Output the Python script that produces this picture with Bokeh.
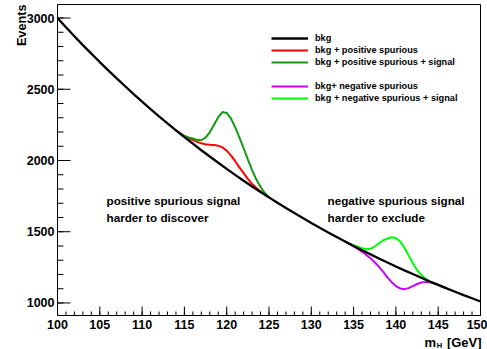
from math import pi
from bokeh.plotting import figure
from bokeh.models import (Range1d, SingleIntervalTicker, Label, Legend, LegendItem)
from bokeh.embed import file_html
from bokeh.resources import INLINE

# ---------------- data ----------------
mass = [100, 101, 102, 103, 104, 105, 106, 107, 108, 109,
        110, 111, 112, 113, 114, 115, 116, 117, 118, 119,
        120, 121, 122, 123, 124, 125, 126, 127, 128, 129,
        130, 131, 132, 133, 134, 135, 136, 137, 138, 139,
        140, 141, 142, 143, 144, 145, 146, 147, 148, 149, 150]
bkg = [3000, 2935, 2872, 2810, 2750, 2691, 2633, 2576, 2521, 2466,
       2413, 2361, 2310, 2261, 2212, 2164, 2118, 2072, 2028, 1984,
       1941, 1899, 1858, 1818, 1779, 1741, 1703, 1667, 1631, 1596,
       1561, 1528, 1495, 1463, 1431, 1400, 1370, 1341, 1312, 1284,
       1256, 1229, 1203, 1177, 1151, 1127, 1102, 1079, 1055, 1033, 1010]

pos_mass = [114.0, 114.5, 115.0, 115.5, 116.0, 116.5, 117.0, 117.5, 118.0, 118.5,
            119.0, 119.5, 120.0, 120.5, 121.0, 121.5, 122.0, 122.5, 123.0, 123.5,
            124.0, 124.5, 125.0]
bkg_pos_spur = [2212, 2191, 2172, 2156, 2143, 2131, 2121, 2114, 2110, 2108,
                2104, 2092, 2069, 2036, 1995, 1952, 1911, 1871, 1836, 1807,
                1783, 1761, 1741]
bkg_pos_spur_sig = [2212, 2190, 2172, 2161, 2154, 2145, 2142, 2160, 2198, 2251,
                    2304, 2340, 2334, 2295, 2234, 2163, 2086, 2008, 1933, 1868,
                    1814, 1772, 1743]

neg_mass = [134.0, 134.5, 135.0, 135.5, 136.0, 136.5, 137.0, 137.5, 138.0, 138.5,
            139.0, 139.5, 140.0, 140.5, 141.0, 141.5, 142.0, 142.5, 143.0, 143.5,
            144.0, 144.5, 145.0, 145.5, 146.0]
bkg_neg_spur = [1431, 1414, 1397, 1379, 1359, 1337, 1314, 1286, 1254, 1218,
                1180, 1146, 1119, 1102, 1097, 1104, 1118, 1133, 1144, 1148,
                1145, 1137, 1127, 1114, 1102]
bkg_neg_spur_sig = [1431, 1417, 1405, 1395, 1385, 1377, 1381, 1396, 1419, 1440,
                    1452, 1461, 1456, 1432, 1389, 1334, 1279, 1232, 1197, 1171,
                    1152, 1139, 1127, 1114, 1102]

legend_labels = ["bkg", "bkg + positive spurious", "bkg + positive spurious + signal",
                 " ", "bkg+ negative spurious", "bkg + negative spurious + signal"]

# tick positions (ROOT draws them inward from the axes)
x_major_ticks = [100, 105, 110, 115, 120, 125, 130, 135, 140, 145, 150]
x_minor_ticks = [100, 101, 102, 103, 104, 105, 106, 107, 108, 109,
                 110, 111, 112, 113, 114, 115, 116, 117, 118, 119,
                 120, 121, 122, 123, 124, 125, 126, 127, 128, 129,
                 130, 131, 132, 133, 134, 135, 136, 137, 138, 139,
                 140, 141, 142, 143, 144, 145, 146, 147, 148, 149, 150]
y_major_ticks = [1000, 1500, 2000, 2500, 3000]
y_minor_ticks = [1000, 1100, 1200, 1300, 1400, 1500, 1600, 1700, 1800, 1900,
                 2000, 2100, 2200, 2300, 2400, 2500, 2600, 2700, 2800, 2900, 3000]

FONT = "Liberation Sans"
X0, X1, Y0, Y1 = 100, 150, 912, 3095
FRAME_W, FRAME_H = 423, 311
PX_X = (X1 - X0) / FRAME_W      # data units per pixel
PX_Y = (Y1 - Y0) / FRAME_H

# ---------------- figure ----------------
p = figure(width=487, height=349, x_range=Range1d(X0, X1), y_range=Range1d(Y0, Y1),
           output_backend="svg", toolbar_location=None,
           min_border_left=57, min_border_right=7, min_border_top=4, min_border_bottom=34)
p.background_fill_alpha = 0
p.border_fill_alpha = 0
p.outline_line_color = "black"
p.outline_line_width = 1
p.grid.visible = False

p.xaxis.ticker = SingleIntervalTicker(interval=5, num_minor_ticks=5)
p.yaxis.ticker = SingleIntervalTicker(interval=500, num_minor_ticks=5)
for ax in (p.xaxis, p.yaxis):
    ax.major_tick_out = 0
    ax.minor_tick_out = 0
    ax.major_tick_in = 0
    ax.minor_tick_in = 0
    ax.axis_line_color = "black"
    ax.major_label_text_font = FONT
    ax.major_label_text_font_style = "bold"
    ax.major_label_text_font_size = "12.5px"
    ax.major_label_text_color = "black"
p.yaxis.major_label_standoff = 3
p.xaxis.major_label_standoff = 4

# ---------------- curves ----------------
r_red = p.line(pos_mass, bkg_pos_spur, line_color="#ff0000", line_width=2)
r_green = p.line(pos_mass, bkg_pos_spur_sig, line_color="#119911", line_width=2)
r_mag = p.line(neg_mass, bkg_neg_spur, line_color="#cc00ff", line_width=2)
r_lgreen = p.line(neg_mass, bkg_neg_spur_sig, line_color="#00ff00", line_width=2)
r_bkg = p.line(mass, bkg, line_color="black", line_width=2.3)
r_blank = p.line(x=[], y=[], line_alpha=0)

# inward tick marks (ROOT style), lengths given in pixels
def ticks_y(values, length_px):
    p.segment(x0=[X0] * len(values), y0=values,
              x1=[X0 + length_px * PX_X] * len(values), y1=values,
              line_color="black", line_width=1)

def ticks_x(values, length_px):
    p.segment(x0=values, y0=[Y0] * len(values),
              x1=values, y1=[Y0 + length_px * PX_Y] * len(values),
              line_color="black", line_width=1)

ticks_y(y_major_ticks, 13)
ticks_y(y_minor_ticks, 6)
ticks_x(x_major_ticks, 9)
ticks_x(x_minor_ticks, 4)

renderers = [r_bkg, r_red, r_green, r_blank, r_mag, r_lgreen]
legend = Legend(items=[LegendItem(label=l, renderers=[r]) for l, r in zip(legend_labels, renderers)],
                location=(214, 211), padding=0, margin=0, spacing=0,
                glyph_width=37, glyph_height=12, label_height=12, label_standoff=7,
                label_text_font=FONT, label_text_font_style="bold",
                label_text_font_size="9.2px", label_text_color="black",
                background_fill_alpha=0, border_line_alpha=0)
p.add_layout(legend)

# ---------------- texts ----------------
def lab(text, x, y, size, align="left", angle=0.0, units="screen"):
    return Label(text=text, x=x, y=y, x_units=units, y_units=units,
                 text_font=FONT, text_font_style="bold", text_font_size=size,
                 text_color="black", text_align=align, text_baseline="alphabetic",
                 angle=angle)

p.add_layout(lab("positive spurious signal", 49, 115, "11.7px"))
p.add_layout(lab("harder to discover", 49, 98.5, "11.7px"))
p.add_layout(lab("negative spurious signal", 270, 115, "11.7px"))
p.add_layout(lab("harder to exclude", 270, 98.5, "11.7px"))

# axis titles, ROOT style (placed in canvas pixels, outside the frame)
p.add_layout(lab("m\u00a0\u00a0\u00a0[GeV]", 424, 342, "13px", units="canvas"), "below")
p.add_layout(lab("H", 436.3, 344.8, "7.5px", units="canvas"), "left")
p.add_layout(lab("Events", 21, 4, "12.7px", align="right", angle=pi / 2, units="canvas"), "left")

open("out.html", "w").write(file_html(p, INLINE))
